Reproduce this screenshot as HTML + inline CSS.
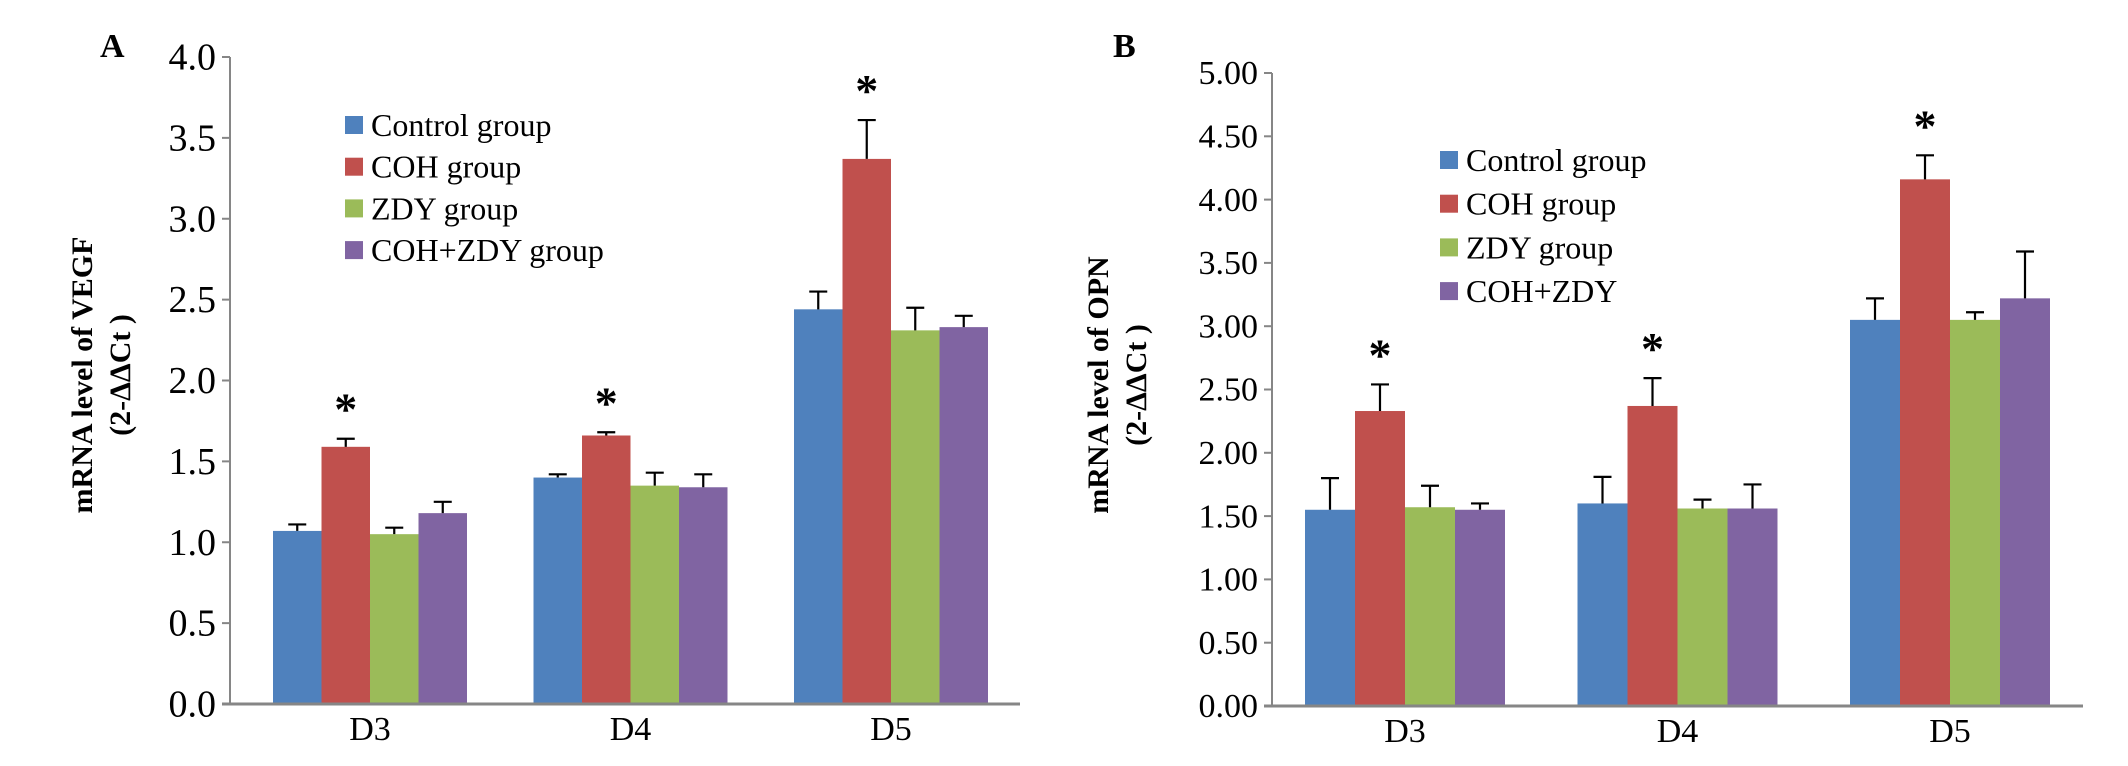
<!DOCTYPE html>
<html><head><meta charset="utf-8"><style>
html,body{margin:0;padding:0;background:#fff;}
svg{display:block;font-family:"Liberation Serif",serif;}
</style></head><body>
<svg id="chart" width="2128" height="766" viewBox="0 0 2128 766"></svg>
<script>
const categories = ["D3","D4","D5"];
const seriesNames = ["Control group","COH group","ZDY group","COH+ZDY group"];
const seriesNamesB = ["Control group","COH group","ZDY group","COH+ZDY"];
const colors = ["#4F81BD","#C0504D","#9BBB59","#8064A2"];
// Panel A (VEGF)
const vegfControl = [1.07,1.40,2.44];
const vegfCOH = [1.59,1.66,3.37];
const vegfZDY = [1.05,1.35,2.31];
const vegfCOHZDY = [1.18,1.34,2.33];
const vegfControlErr = [0.04,0.02,0.11];
const vegfCOHErr = [0.05,0.02,0.24];
const vegfZDYErr = [0.04,0.08,0.14];
const vegfCOHZDYErr = [0.07,0.08,0.07];
const vegfTicks = ["0.0","0.5","1.0","1.5","2.0","2.5","3.0","3.5","4.0"];
const vegfSig = [true,true,true];
// Panel B (OPN)
const opnControl = [1.55,1.60,3.05];
const opnCOH = [2.33,2.37,4.16];
const opnZDY = [1.57,1.56,3.05];
const opnCOHZDY = [1.55,1.56,3.22];
const opnControlErr = [0.25,0.21,0.17];
const opnCOHErr = [0.21,0.22,0.19];
const opnZDYErr = [0.17,0.07,0.06];
const opnCOHZDYErr = [0.05,0.19,0.37];
const opnTicks = ["0.00","0.50","1.00","1.50","2.00","2.50","3.00","3.50","4.00","4.50","5.00"];
const opnSig = [true,true,true];

const NS="http://www.w3.org/2000/svg";
const svg=document.getElementById('chart');
function mk(tag,attrs,parent,text){const e=document.createElementNS(NS,tag);for(const k in attrs)e.setAttribute(k,attrs[k]);if(text!==undefined)e.textContent=text;(parent||svg).appendChild(e);return e;}

function panel(cfg){
  const g=mk('g',{});
  
  
  const y=v=>cfg.y0-(v/cfg.max)*(cfg.y0-cfg.yTop);
  const step=(cfg.axisR-cfg.axisL)/categories.length;
  const groupW=cfg.barW*4;
  const catCenter=i=>cfg.firstCenter+i*cfg.catStep;
  // bars
  cfg.series.forEach((vals,s)=>{
    vals.forEach((v,i)=>{
      const x=catCenter(i)-groupW/2+s*cfg.barW;
      const r=mk('rect',{x:x,y:y(v),width:cfg.barW,height:cfg.y0-y(v),fill:colors[s]},g);
      
      
      const e=cfg.errs[s][i];
      const cx=x+cfg.barW/2;
      const eb=mk('path',{d:`M${cx} ${y(v)} V${y(v+e)} M${cx-9} ${y(v+e)} H${cx+9}`,stroke:'#000','stroke-width':2.2,fill:'none'},g);
      
      
      if(s===1 && cfg.sig[i]){
        const st=mk('text',{x:cx,y:y(v+e)-14,'font-size':46,'text-anchor':'middle','font-weight':'bold'},g,'*');
        
        
      }
    });
  });
  // axes
  const ax=mk('line',{x1:cfg.axisL,y1:cfg.yTop,x2:cfg.axisL,y2:cfg.y0,stroke:'#868686','stroke-width':2},g);
  
  
  const xa=mk('line',{x1:cfg.axisL-8,y1:cfg.y0,x2:cfg.axisR,y2:cfg.y0,stroke:'#868686','stroke-width':3},g);
  
  
  cfg.ticks.forEach((t,i)=>{
    const v=i*cfg.max/(cfg.ticks.length-1);
    mk('line',{x1:cfg.axisL-8,y1:y(v),x2:cfg.axisL,y2:y(v),stroke:'#868686','stroke-width':2},g);
    const tl=mk('text',{x:cfg.axisL-14,y:y(v)+cfg.tickFs*0.33,'font-size':cfg.tickFs,'text-anchor':'end'},g,t);
    
    
  });
  categories.forEach((c,i)=>{
    const cl=mk('text',{x:catCenter(i),y:cfg.y0+36,'font-size':34,'text-anchor':'middle'},g,c);
    
    
  });
  // y title
  const tt=mk('text',{transform:`translate(${cfg.titleX},${cfg.titleY}) rotate(-90)`,'font-size':30,'font-weight':'bold','text-anchor':'middle'},g);
  
  
  mk('tspan',{x:0,y:0},tt,cfg.title1);
  mk('tspan',{x:0,y:38},tt,'(2-ΔΔCt )');
  // panel letter
  const pl=mk('text',{x:cfg.letterX,y:57,'font-size':34,'font-weight':'bold'},g,cfg.letter);
  
  
  // legend
  const lg=mk('g',{},g);
  
  
  cfg.legendNames.forEach((n,i)=>{
    const cy=cfg.legY+i*cfg.legStep;
    const le=mk('g',{},lg);
    
    
    mk('rect',{x:cfg.legX,y:cy-9,width:18,height:18,fill:colors[i]},le);
    mk('text',{x:cfg.legX+26,y:cy+11,'font-size':32},le,n);
  });
}

panel({name:'panel-a-vegf',series:[vegfControl,vegfCOH,vegfZDY,vegfCOHZDY],errs:[vegfControlErr,vegfCOHErr,vegfZDYErr,vegfCOHZDYErr],
  sig:vegfSig,ticks:vegfTicks,max:4,y0:704,yTop:57,axisL:230,axisR:1020,firstCenter:370,catStep:260.5,barW:48.5,tickFs:38,
  titleX:92,titleY:375,title1:'mRNA level of VEGF',letter:'A',letterX:100,legendNames:seriesNames,legX:345,legY:125,legStep:41.7});
panel({name:'panel-b-opn',series:[opnControl,opnCOH,opnZDY,opnCOHZDY],errs:[opnControlErr,opnCOHErr,opnZDYErr,opnCOHZDYErr],
  sig:opnSig,ticks:opnTicks,max:5,y0:706,yTop:73,axisL:1272,axisR:2083,firstCenter:1405,catStep:272.5,barW:50,tickFs:34,
  titleX:1108,titleY:385,title1:'mRNA level of OPN',letter:'B',letterX:1113,legendNames:seriesNamesB,legX:1440,legY:160,legStep:43.7});
</script>
</body></html>
